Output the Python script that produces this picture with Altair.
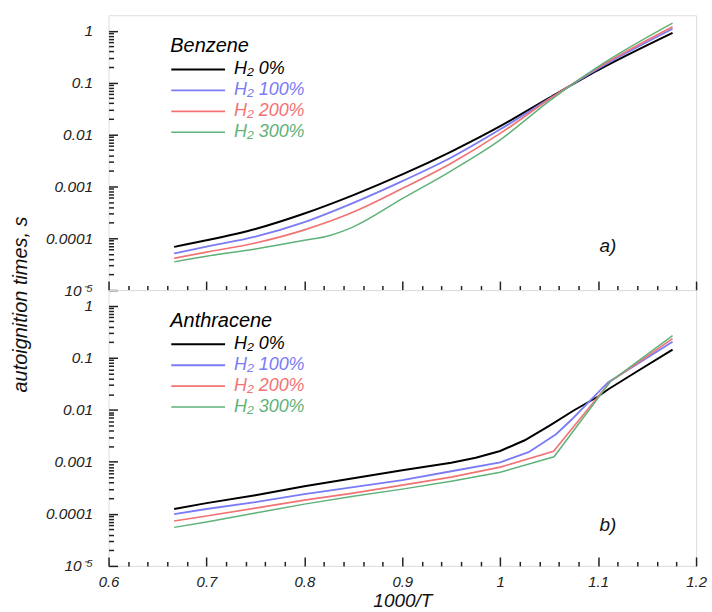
import altair as alt
import pandas as pd

FONT = "Liberation Sans"

series = ["H₂ 0%", "H₂ 100%", "H₂ 200%", "H₂ 300%"]
colors = ["#000000", "#7b7bf5", "#f27373", "#5fb27a"]
widths = [2.0, 1.5, 1.5, 1.5]

# ---- Benzene (panel a) ----
benz_x = [0.667, 0.70, 0.75, 0.80, 0.85, 0.90, 0.95, 1.00, 1.05, 1.10, 1.176]
benz_h0 = [6.8e-5, 9.1e-5, 1.51e-4, 3.0e-4, 6.8e-4, 1.7e-3, 4.7e-3, 0.0145, 0.051, 0.174, 0.91]
benz_h100 = [5.1e-5, 6.9e-5, 1.07e-4, 2.04e-4, 4.8e-4, 1.26e-3, 3.6e-3, 0.0126, 0.049, 0.186, 1.10]
benz_h200 = [4.1e-5, 5.4e-5, 8.1e-5, 1.45e-4, 3.2e-4, 9.1e-4, 2.8e-3, 0.0105, 0.048, 0.195, 1.20]
benz_x_h300 = [0.667, 0.70, 0.75, 0.80, 0.825, 0.85, 0.90, 0.95, 1.00, 1.05, 1.10, 1.176]
benz_h300 = [3.5e-5, 4.5e-5, 6.2e-5, 9.1e-5, 1.12e-4, 1.66e-4, 5.8e-4, 2.0e-3, 7.9e-3, 0.044, 0.204, 1.41]

# ---- Anthracene (panel b) ----
anth_x_h0 = [0.667, 0.70, 0.75, 0.80, 0.85, 0.90, 0.95, 0.975, 1.00, 1.025, 1.05, 1.075, 1.10, 1.11, 1.14, 1.176]
anth_h0 = [1.24e-4, 1.61e-4, 2.29e-4, 3.41e-4, 4.85e-4, 6.9e-4, 9.6e-4, 1.2e-3, 1.62e-3, 2.6e-3, 4.9e-3, 9.7e-3, 0.018, 0.0246, 0.055, 0.144]
anth_x_h100 = [0.667, 0.70, 0.75, 0.80, 0.85, 0.90, 0.95, 1.00, 1.029, 1.057, 1.073, 1.090, 1.110, 1.176]
anth_h100 = [9.9e-5, 1.24e-4, 1.68e-4, 2.39e-4, 3.26e-4, 4.44e-4, 6.6e-4, 9.8e-4, 1.53e-3, 3.4e-3, 6.5e-3, 0.0139, 0.0335, 0.204]
anth_x_h200 = [0.667, 0.70, 0.75, 0.80, 0.85, 0.90, 0.95, 1.00, 1.0545, 1.1125, 1.176]
anth_h200 = [7.3e-5, 9.1e-5, 1.29e-4, 1.84e-4, 2.5e-4, 3.56e-4, 5.07e-4, 7.9e-4, 1.6e-3, 0.035, 0.233]
anth_x_h300 = [0.667, 0.70, 0.75, 0.80, 0.85, 0.90, 0.95, 1.00, 1.055, 1.1125, 1.176]
anth_h300 = [5.5e-5, 7.0e-5, 1.04e-4, 1.54e-4, 2.19e-4, 2.99e-4, 4.25e-4, 6.3e-4, 1.25e-3, 0.035, 0.266]

panel_tags = ["a)", "b)"]
tag_x = [1.11, 1.11]
tag_y = [7.0e-5, 6.1e-5]

x_label_values = [0.6, 0.7, 0.8, 0.9, 1.0, 1.1, 1.2]
y_label_values = [1e-5, 1e-4, 1e-3, 1e-2, 1e-1, 1.0]
x_tick_values = [round(0.6 + 0.02 * i, 2) for i in range(31)]
y_tick_values = [m * 10.0 ** e for e in range(-5, 0) for m in range(1, 10)] + [1.0]


def frame(xs_list, ys_list):
    rows = []
    for name, xs, ys in zip(series, xs_list, ys_list):
        for a, b in zip(xs, ys):
            rows.append({"x": a, "y": b, "series": name})
    return pd.DataFrame(rows)


benz_df = frame([benz_x, benz_x, benz_x, benz_x_h300],
                [benz_h0, benz_h100, benz_h200, benz_h300])
anth_df = frame([anth_x_h0, anth_x_h100, anth_x_h200, anth_x_h300],
                [anth_h0, anth_h100, anth_h200, anth_h300])

W = 590
label_color_expr = (
    "datum.value == '" + series[0] + "' ? '" + colors[0] + "' : "
    "datum.value == '" + series[1] + "' ? '" + colors[1] + "' : "
    "datum.value == '" + series[2] + "' ? '" + colors[2] + "' : '" + colors[3] + "'"
)

x_major_test = "abs(datum.value * 10 - round(datum.value * 10)) < 0.001"
y_major_test = "abs(log(datum.value) / LN10 - round(log(datum.value) / LN10)) < 0.001"


def panel(df, legend_title, tag_idx, height, interp, bottom):
    xs = alt.Scale(domain=[0.6, 1.2], nice=False, zero=False)
    ys = alt.Scale(type="log", domain=[1e-5, 2], nice=False)

    if bottom:
        x_axis = alt.Axis(values=x_label_values, format="~g", labelFlush=False,
                          labelOverlap=False, ticks=False, tickSize=0, domain=False,
                          grid=False, labelPadding=9, labelFontSize=15,
                          labelFontStyle="italic", labelColor="#222",
                          title="1000/T", titleFontSize=19, titleFontStyle="italic",
                          titleFontWeight="normal", titleColor="#111", titlePadding=2)
    else:
        x_axis = None

    y_axis_kw = dict(values=y_label_values,
                     labelExpr="datum.value < 5e-5 ? '10⁻⁵' : format(datum.value, '~g')",
                     labelOverlap=False, labelFlush=False, ticks=False, tickSize=0,
                     domain=False, grid=False, labelPadding=16, labelFontSize=15.5,
                     labelFontStyle="italic", labelColor="#222")
    if not bottom:
        y_axis = alt.Axis(title="autoignition times, s", titleFontSize=20,
                          titleFontStyle="italic", titleFontWeight="normal",
                          titleColor="#111", titleX=-88, titleY=290, titleAngle=270,
                          titleAlign="center", titleBaseline="middle", **y_axis_kw)
    else:
        y_axis = alt.Axis(title=None, **y_axis_kw)

    lines = alt.Chart(df).mark_line(interpolate=interp).encode(
        x=alt.X("x:Q", scale=xs, axis=x_axis),
        y=alt.Y("y:Q", scale=ys, axis=y_axis),
        color=alt.Color(
            "series:N",
            scale=alt.Scale(domain=series, range=colors),
            legend=alt.Legend(
                title=legend_title, orient="none", legendX=62, legendY=21,
                symbolType="stroke", symbolSize=2916, symbolStrokeWidth=1.5,
                clipHeight=21, rowPadding=0, labelOffset=8, padding=0,
                labelFont=FONT, labelFontSize=18, labelFontStyle="italic",
                labelColor=alt.ExprRef(expr=label_color_expr),
                titleFont=FONT, titleFontSize=20, titleFontStyle="italic",
                titleFontWeight="normal", titleColor="#000", titlePadding=3,
            ),
        ),
        strokeWidth=alt.StrokeWidth("series:N",
                                    scale=alt.Scale(domain=series, range=widths),
                                    legend=None),
    )

    tag_df = pd.DataFrame({"x": [tag_x[tag_idx]], "y": [tag_y[tag_idx]],
                           "label": [panel_tags[tag_idx]]})
    tick_x_axis = alt.Axis(orient="top", offset=-height, values=x_tick_values,
                           labels=False, domain=False, grid=False, title=None,
                           tickColor="#222", tickWidth=1.5,
                           tickSize={"condition": {"test": x_major_test, "value": 9},
                                     "value": 4.5})
    tick_y_axis = alt.Axis(orient="right", offset=-W, values=y_tick_values,
                           labels=False, domain=False, grid=False, title=None,
                           tickColor="#222", tickWidth=1.5,
                           tickSize={"condition": {"test": y_major_test, "value": 9},
                                     "value": 5})
    tag = alt.Chart(tag_df).mark_text(font=FONT, fontStyle="italic", fontSize=19,
                                      color="#111").encode(
        x=alt.X("x:Q", scale=xs, axis=tick_x_axis),
        y=alt.Y("y:Q", scale=ys, axis=tick_y_axis),
        text="label:N",
    )
    return alt.layer(lines, tag).resolve_axis(x="independent", y="independent").properties(
        width=W, height=height)


top = panel(benz_df, "Benzene", 0, 276, "monotone", False)
bot = panel(anth_df, "Anthracene", 1, 277, "linear", True)

chart = alt.vconcat(top, bot, spacing=0, bounds="flush").resolve_scale(
    color="independent", strokeWidth="independent"
).properties(
    padding={"left": 10, "top": 13, "right": 5, "bottom": 0}
).configure_view(
    stroke="#222", strokeWidth=2
).configure_axis(
    labelFont=FONT, titleFont=FONT
).configure(background="white")

chart.save("out.html", embed_options={"renderer": "svg", "actions": False})
